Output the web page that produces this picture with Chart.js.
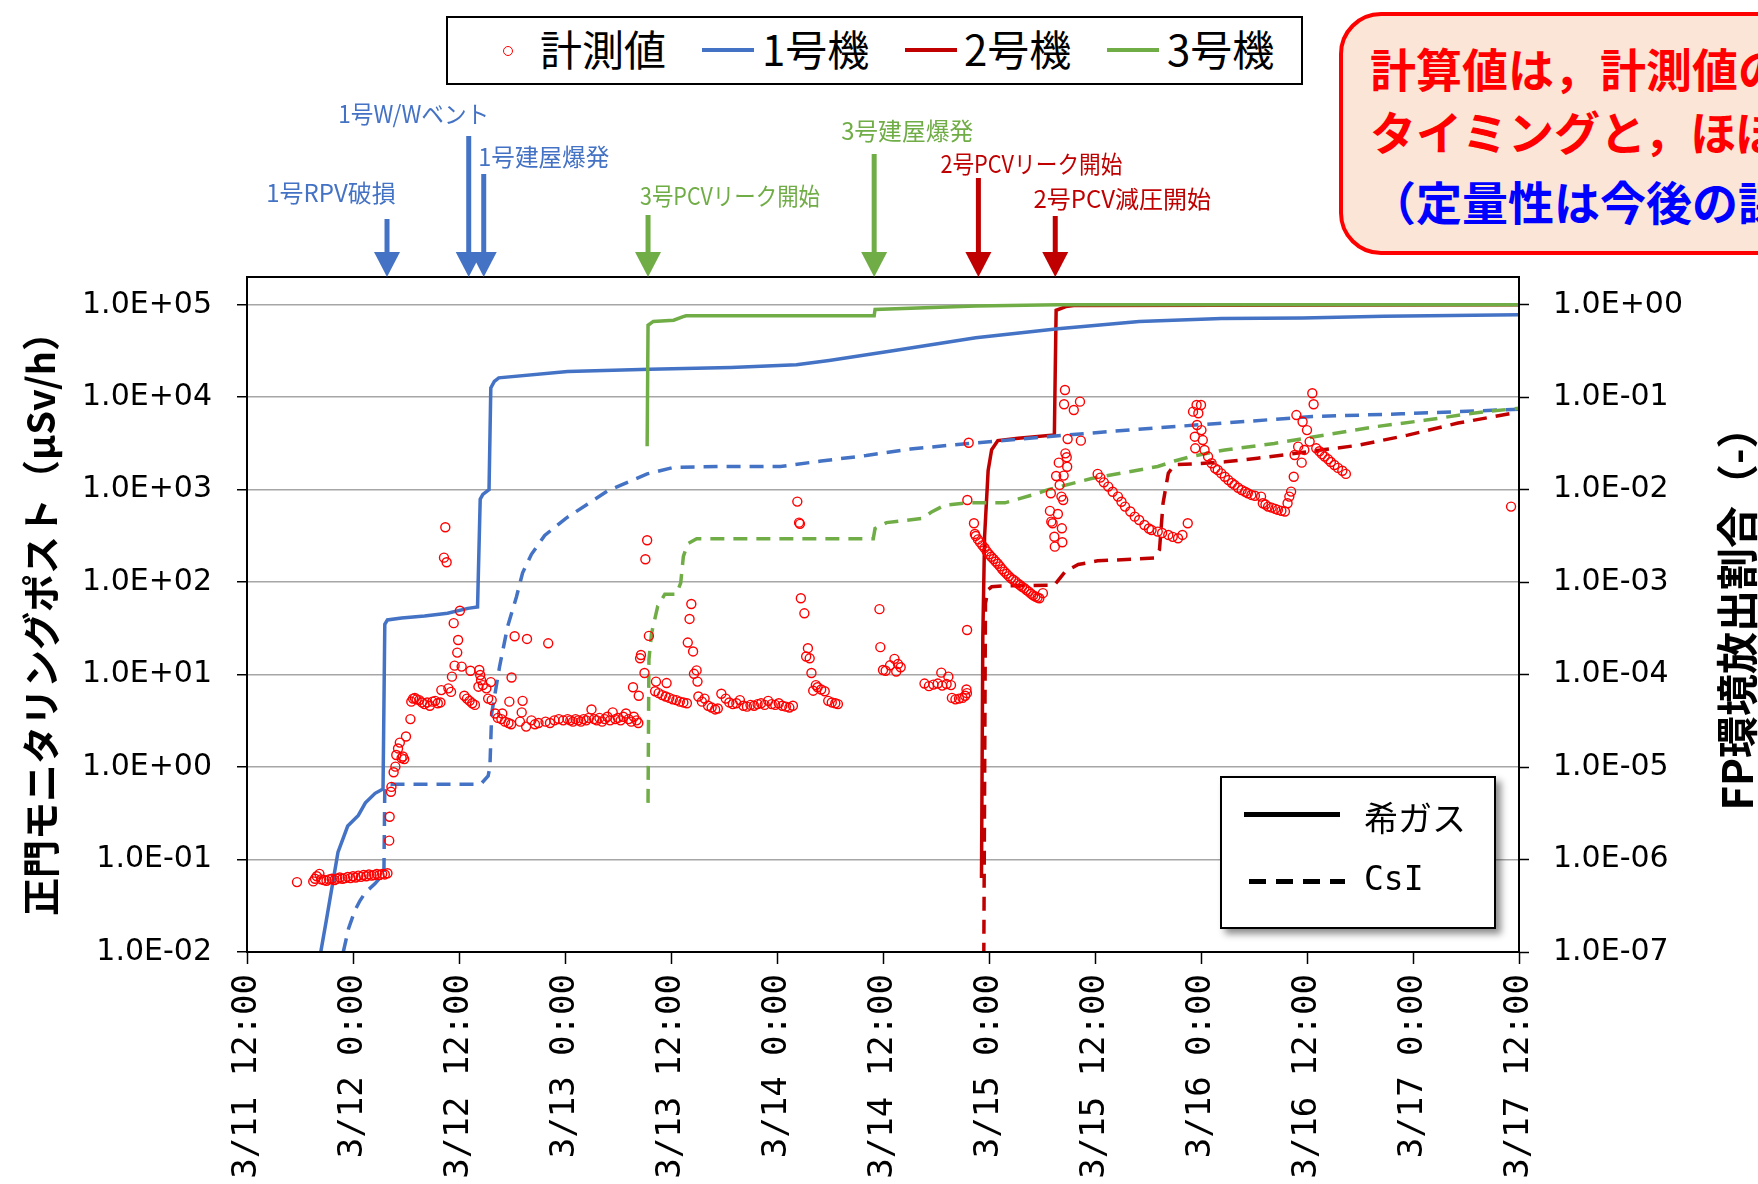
<!DOCTYPE html>
<html lang="ja">
<head>
<meta charset="utf-8">
<title>正門モニタリングポスト 計測値と計算値</title>
<script src="https://cdn.jsdelivr.net/npm/chart.js@4.4.1/dist/chart.umd.min.js"></script>
<style>
  html, body { margin: 0; padding: 0; background: #fff; }
  #page { position: relative; width: 1758px; height: 1184px; overflow: hidden; background: #fff;
          font-family: "Noto Sans CJK JP", sans-serif; }
  #chartBox { position: absolute; left: 0; top: 0; width: 1758px; height: 1320px; }
  .abs { position: absolute; white-space: nowrap; }
  #legendTop { left: 446px; top: 16px; width: 857px; height: 69px; box-sizing: border-box;
               border: 2px solid #000; background: #fff; }
  .lgText { font-size: 42px; line-height: 42px; color: #000; }
  .lgLine { height: 4px; width: 52px; }
  #lgCircle { left: 503px; top: 46px; width: 10px; height: 10px; box-sizing: border-box;
              border: 1.6px solid #FF0000; border-radius: 50%; }
  #legendStyle { left: 1220px; top: 776px; width: 276px; height: 153px; box-sizing: border-box;
                 border: 2px solid #000; background: #fff; box-shadow: 5px 5px 7px rgba(0,0,0,0.45); }
  .stText { font-size: 34px; line-height: 36px; color: #000; }
  #note { left: 1339px; top: 12px; width: 560px; height: 243px; box-sizing: border-box;
          border: 4px solid #FF0000; border-radius: 42px; background: #FBE5D6; }
  .noteText { font-size: 46px; line-height: 46px; font-weight: bold; }
</style>
</head>
<body>
<div id="page">
  <div id="chartBox"><canvas id="chart"></canvas></div>

  <div id="legendTop" class="abs"></div>
  <div id="lgCircle" class="abs"></div>
  <div class="abs lgText" style="left:540px; top:27px;">計測値</div>
  <div class="abs lgLine" style="left:702px; top:48px; background:#4472C4;"></div>
  <div class="abs lgText" style="left:762px; top:27px;">1号機</div>
  <div class="abs lgLine" style="left:905px; top:48px; background:#C00000;"></div>
  <div class="abs lgText" style="left:964px; top:27px;">2号機</div>
  <div class="abs lgLine" style="left:1107px; top:48px; background:#70AD47;"></div>
  <div class="abs lgText" style="left:1167px; top:27px;">3号機</div>

  <div id="legendStyle" class="abs"></div>
  <div class="abs" style="left:1244px; top:812px; width:96px; height:5px; background:#000;"></div>
  <div class="abs stText" style="left:1364px; top:799px;">希ガス</div>
  <div class="abs" style="left:1249px; top:879px; width:96px; height:5px;
       background: repeating-linear-gradient(90deg, #000 0 17px, transparent 17px 27px);"></div>
  <div class="abs stText" style="left:1364px; top:861px; font-family:'DejaVu Sans Mono'; font-size:33px;">CsI</div>

  <div id="note" class="abs"></div>
  <div class="abs noteText" style="left:1370px; top:44px; color:#FF0000;">計算値は，計測値の上昇</div>
  <div class="abs noteText" style="left:1370px; top:107px; color:#FF0000;">タイミングと，ほぼ一致</div>
  <div class="abs noteText" style="left:1370px; top:177px; color:#0000FF;">（定量性は今後の課題）</div>
</div>

<script>
// hours from 3/11 12:00
const timeLabels = ['3/11 12:00', '3/12 0:00', '3/12 12:00', '3/13 0:00', '3/13 12:00', '3/14 0:00',
  '3/14 12:00', '3/15 0:00', '3/15 12:00', '3/16 0:00', '3/16 12:00', '3/17 0:00', '3/17 12:00'];

// measured dose rate at main gate (μSv/h) : [hour, value]
const measured = [
  [5.66, 0.057], [7.5, 0.058], [7.7, 0.062], [7.9, 0.066], [8.2, 0.070], [8.4, 0.061], [8.7, 0.060],
  [9.0, 0.059], [9.3, 0.061], [9.6, 0.062], [9.9, 0.060], [10.2, 0.062], [10.5, 0.064], [10.8, 0.062],
  [11.1, 0.063], [11.4, 0.065], [11.7, 0.063], [12.0, 0.066], [12.3, 0.064], [12.6, 0.067], [12.9, 0.065],
  [13.2, 0.068], [13.5, 0.066], [13.8, 0.069], [14.1, 0.067], [14.4, 0.068], [14.7, 0.070], [15.0, 0.068],
  [15.3, 0.070], [15.6, 0.069], [15.9, 0.071],
  [16.1, 0.16], [16.15, 0.29], [16.3, 0.54], [16.35, 0.61], [16.6, 0.88], [16.8, 1.01], [16.9, 1.35],
  [17.1, 1.59], [17.3, 1.84], [17.5, 1.25], [17.65, 1.3], [17.8, 1.22], [18.0, 2.14], [18.5, 3.3],
  [18.6, 5.1], [18.8, 5.5], [19.0, 5.6], [19.2, 5.4], [19.5, 5.3], [19.8, 5.0], [20.1, 4.8], [20.4, 5.0],
  [20.7, 4.6], [21.0, 5.1], [21.3, 5.2], [21.6, 4.9], [21.9, 5.0], [22.0, 6.8], [22.8, 7.1], [23.1, 6.5],
  [23.2, 9.5], [23.5, 12.5], [23.8, 17.3], [23.9, 23.7], [23.4, 36], [24.1, 49], [22.45, 392], [22.3, 184],
  [22.6, 164], [24.3, 12.2], [25.3, 11.0], [24.6, 5.9], [24.9, 5.5], [25.2, 5.2], [25.5, 4.9], [25.8, 4.7],
  [26.3, 11.2], [26.4, 9.9], [26.5, 8.7], [26.2, 7.4], [26.7, 7.7], [27.1, 7.1], [27.6, 8.3], [27.3, 5.5],
  [27.7, 5.3], [28.1, 3.8], [28.4, 3.4], [28.8, 3.3], [29.2, 3.1], [29.6, 3.0], [29.9, 2.9], [28.9, 3.8],
  [29.95, 9.3], [29.7, 5.1], [31.2, 5.2], [31.1, 3.9], [30.9, 3.1], [31.6, 2.74], [32.2, 3.2], [32.6, 2.9],
  [33.0, 3.0], [30.3, 26], [31.7, 24.3], [34.1, 21.8], [33.8, 3.1], [34.3, 3.0], [34.8, 3.2], [35.3, 3.3],
  [35.8, 3.2], [36.3, 3.3],
  [36.6, 3.2], [36.9, 3.1], [37.2, 3.3], [37.5, 3.2], [37.8, 3.1], [38.1, 3.3], [38.4, 3.2], [38.7, 3.4],
  [39.0, 4.2], [39.3, 3.3], [39.6, 3.2], [39.9, 3.4], [40.2, 3.1], [40.5, 3.3], [40.8, 3.5], [41.1, 3.2],
  [41.4, 3.9], [41.7, 3.3], [42.0, 3.4], [42.3, 3.2], [42.6, 3.5], [42.9, 3.8], [43.2, 3.3], [43.5, 3.1],
  [43.8, 3.5], [44.1, 3.2], [44.3, 3.0],
  [43.7, 7.3], [44.35, 5.9], [44.5, 15.0], [44.6, 16.3], [45.0, 10.4], [45.5, 26.2], [45.1, 177], [45.3, 284],
  [46.3, 8.4], [46.2, 6.6], [47.5, 8.1], [46.6, 6.3], [47.0, 6.0], [47.4, 5.8], [47.8, 5.6], [48.2, 5.4],
  [48.6, 5.3], [49.0, 5.1], [49.4, 5.0], [49.8, 4.9], [50.3, 58], [50.1, 40], [49.9, 22.2], [50.5, 17.8],
  [50.9, 11.1], [50.6, 10.2], [51.0, 8.4], [51.1, 5.8], [51.5, 5.1], [51.8, 5.5], [52.2, 4.6], [52.6, 4.4],
  [53.0, 4.2], [53.3, 4.3], [53.7, 6.2],
  [54.2, 5.5], [54.6, 5.0], [55.0, 4.8], [55.4, 4.9], [55.8, 5.3], [56.2, 4.6], [56.6, 4.5], [57.0, 4.7],
  [57.4, 4.6], [57.8, 4.8], [58.2, 4.9], [58.6, 4.7], [59.0, 5.2], [59.4, 4.8], [59.8, 4.7], [60.2, 4.9],
  [60.6, 4.6], [61.0, 4.5], [61.4, 4.4], [61.8, 4.6],
  [62.3, 743], [62.5, 440], [62.6, 427], [62.7, 67], [63.1, 46], [63.5, 19.3], [63.3, 15.7], [63.7, 15.0],
  [63.9, 10.4], [64.1, 6.7], [64.4, 7.7], [64.6, 7.3], [65.0, 6.9], [65.4, 6.6], [65.8, 5.2], [66.2, 5.0],
  [66.6, 4.9], [66.9, 4.8],
  [71.6, 51], [71.7, 19.8], [72.0, 11.2], [72.3, 11.0], [72.8, 12.6], [73.3, 14.8], [73.7, 13.0],
  [74.0, 12.0], [73.5, 10.8],
  [76.7, 8.0], [77.2, 7.5], [77.7, 7.8], [78.2, 8.0], [78.7, 7.6], [79.2, 7.9], [79.7, 7.7], [78.6, 10.5],
  [79.4, 9.5], [79.8, 5.6], [80.2, 5.4], [80.6, 5.5], [81.0, 5.6], [81.3, 5.9], [81.5, 6.3], [81.45, 6.9],
  [81.52, 30.4], [81.55, 774], [81.7, 3220],
  [82.3, 433], [82.4, 332], [82.5, 316], [82.75, 290], [83.0, 269], [83.25, 250], [83.5, 234], [83.75, 215],
  [84.0, 200], [84.25, 188], [84.5, 178], [84.75, 167], [85.0, 158], [85.25, 148], [85.5, 138], [85.75, 130],
  [86.0, 123], [86.25, 116], [86.5, 110], [86.75, 106], [87.0, 102], [87.25, 97], [87.5, 93], [87.75, 89],
  [88.0, 86], [88.25, 82], [88.5, 79], [88.75, 75], [89.0, 72], [89.25, 70], [89.5, 68], [89.7, 67], [90.1, 76],
  [92.6, 11970], [92.5, 8380], [93.6, 7270], [94.3, 8950], [92.9, 3530], [94.4, 3390], [92.65, 2470],
  [92.8, 2240], [91.9, 1960], [92.85, 1770], [91.6, 1405], [92.45, 1420], [92.0, 1125], [91.0, 914],
  [92.2, 841], [92.4, 774], [90.9, 589], [91.8, 546], [91.05, 451], [91.2, 433], [92.25, 382], [91.4, 310],
  [92.3, 270], [91.45, 242],
  [96.3, 1480], [96.6, 1350], [97.0, 1200], [97.5, 1080], [98.0, 950], [98.6, 841], [99.0, 740], [99.4, 656],
  [100.0, 580], [100.5, 511], [101.0, 470], [101.6, 415], [102.1, 380], [102.4, 366], [103.1, 352],
  [103.6, 340], [104.3, 324], [104.8, 309], [105.4, 298], [105.9, 324], [106.5, 433],
  [107.5, 8240], [108.0, 8240], [107.7, 6700], [107.1, 6980], [107.55, 5000], [107.3, 3740], [108.2, 3440],
  [107.35, 2800], [108.05, 4410], [108.4, 2690], [108.8, 2280], [109.2, 1930], [109.6, 1700], [109.9, 1630],
  [110.3, 1500], [110.7, 1380], [111.1, 1270], [111.5, 1180], [111.8, 1125], [112.2, 1050], [112.6, 993],
  [113.0, 950], [113.3, 914], [113.7, 877], [114.1, 860], [114.8, 841], [115.0, 713], [115.3, 690],
  [115.6, 656], [116.0, 640], [116.4, 620], [116.7, 604], [117.1, 590], [117.5, 580], [117.8, 713],
  [118.0, 841], [118.2, 953], [118.5, 1380], [118.6, 2370], [119.0, 2920], [119.4, 1960], [118.8, 6410],
  [119.5, 5430], [120.0, 4410], [120.3, 3310], [120.6, 11020], [120.75, 8380], [119.7, 2690], [121.05, 2800],
  [121.4, 2600], [121.7, 2420], [122.0, 2280], [122.4, 2130], [122.7, 1990], [123.1, 1850], [123.5, 1720],
  [124.0, 1600], [124.4, 1480],
  [143.1, 656]
];

// calculated FP release fraction (-) : [hour, value]
const unit1Gas = [
  [8.35, 1.0e-7], [8.98, 2.2e-7], [10.3, 1.2e-6], [11.4, 2.3e-6], [12.6, 3.0e-6], [13.4, 4.1e-6],
  [14.5, 5.2e-6], [15.4, 5.8e-6], [15.6, 3.5e-4], [15.9, 3.9e-4], [17.5, 4.1e-4], [20.1, 4.3e-4],
  [22.7, 4.6e-4], [25.0, 5.2e-4], [26.1, 5.4e-4], [26.4, 7.9e-3], [26.7, 8.9e-3], [27.4, 1.0e-2],
  [27.6, 0.126], [28.0, 0.148], [28.5, 0.162], [36.3, 0.19], [45.6, 0.20], [54.8, 0.21], [62.2, 0.224],
  [65.9, 0.25], [73.3, 0.32], [82.5, 0.44], [91.8, 0.55], [101, 0.66], [110.3, 0.71], [119.5, 0.72],
  [128.7, 0.75], [144, 0.78]
];
const unit1CsI = [
  [10.9, 1.0e-7], [11.5, 1.8e-7], [12.2, 2.8e-7], [12.8, 3.6e-7], [13.4, 4.4e-7], [14.5, 5.5e-7],
  [15.5, 7.1e-7], [15.6, 6.2e-6], [16.0, 6.5e-6], [25.8, 6.5e-6], [26.5, 6.6e-6], [27.3, 8.0e-6],
  [27.5, 1.0e-5], [27.7, 3.8e-5], [28.6, 1.23e-4], [29.5, 3.3e-4], [30.5, 6.9e-4], [31.2, 1.26e-3],
  [32.2, 2.0e-3], [33.7, 3.2e-3], [36.1, 4.9e-3], [40.9, 9.8e-3], [45.3, 1.48e-2], [48.3, 1.74e-2],
  [53.5, 1.78e-2], [60.4, 1.78e-2], [65, 2.04e-2], [70.1, 2.34e-2], [75.1, 2.75e-2], [81.7, 3.16e-2],
  [90.3, 3.72e-2], [100.4, 4.47e-2], [110.5, 5.25e-2], [120.6, 6.17e-2], [130.7, 6.61e-2], [144, 7.41e-2]
];
const unit2Gas = [
  [83.15, 6.3e-7], [83.3, 2.6e-4], [83.5, 3.1e-3], [83.9, 1.6e-2], [84.3, 2.7e-2], [85.0, 3.4e-2],
  [87.3, 3.6e-2], [91.4, 3.9e-2], [91.5, 0.195], [91.6, 0.87], [92.7, 0.955], [93.6, 0.98], [144, 1.0]
];
const unit2CsI = [
  [83.4, 5e-8], [83.6, 5.9e-4], [83.9, 8.3e-4], [84.3, 8.9e-4], [85.4, 9.1e-4], [91.4, 9.3e-4],
  [92.6, 1.29e-3], [94.1, 1.55e-3], [96.3, 1.70e-3], [102.7, 1.82e-3], [103.3, 2.24e-3], [103.7, 7.1e-3],
  [104.3, 1.51e-2], [105.0, 1.86e-2], [107.7, 1.91e-2], [110.7, 2.0e-2], [114.4, 2.19e-2], [120.1, 2.57e-2],
  [125.8, 3.02e-2], [131.4, 3.89e-2], [137.1, 5.25e-2], [144, 6.92e-2]
];
const unit3Gas = [
  [45.3, 2.95e-2], [45.4, 0.60], [46.0, 0.66], [48.3, 0.68], [49.3, 0.74], [49.7, 0.76], [71.0, 0.76],
  [71.1, 0.89], [82.5, 0.97], [91.8, 1.0], [144, 1.0]
];
const unit3CsI = [
  [45.4, 4.1e-6], [45.5, 1.45e-4], [45.8, 2.8e-4], [46.5, 5.5e-4], [47.3, 7.4e-4], [48.6, 7.4e-4],
  [49.1, 9.8e-4], [49.4, 1.9e-3], [49.9, 2.6e-3], [50.9, 2.95e-3], [70.9, 2.95e-3], [71.1, 3.8e-3],
  [72.4, 4.4e-3], [76.5, 4.9e-3], [77.5, 5.75e-3], [79.0, 6.8e-3], [81.6, 7.2e-3], [85.8, 7.2e-3],
  [88.8, 8.7e-3], [90.7, 1.0e-2], [95.6, 1.32e-2], [103.1, 1.78e-2], [105.0, 2.04e-2], [106.9, 2.29e-2],
  [110.7, 2.69e-2], [116.3, 3.16e-2], [122.0, 3.89e-2], [127.7, 4.79e-2], [133.3, 5.62e-2],
  [139.0, 6.76e-2], [144, 7.6e-2]
];

// events marked with arrows above the plot
const eventHours = [15.85, 25.1, 26.8, 45.4, 71.0, 82.8, 91.5];
const eventLabels = ['1号RPV破損', '1号W/Wベント', '1号建屋爆発', '3号PCVリーク開始', '3号建屋爆発',
  '2号PCVリーク開始', '2号PCV減圧開始'];
const eventUnits = [1, 1, 1, 3, 3, 2, 2];

const unitColors = { 1: '#4472C4', 2: '#C00000', 3: '#70AD47' };
// arrow / label layout (px)
const arrowTops = [219, 136, 174, 215, 154, 178, 216];
const labelDx = [-56, -55, 60, 82, 33, 53, 67];
const labelY = [193, 114, 157, 196, 131, 164, 199];
const labelMaxW = [131, 151, 131, 180, 132, 182, 179];

const leftTitle = '正門モニタリングポスト（μSv/h）';
const rightTitle = 'FP環境放出割合（-）';

const sciLabel = v => {
  const e = Math.round(Math.log10(v));
  return '1.0E' + (e < 0 ? '-' : '+') + String(Math.abs(e)).padStart(2, '0');
};
const toXY = arr => arr.map(p => ({ x: p[0], y: p[1] }));

const overlay = {
  id: 'overlay',
  afterDraw(chart) {
    const { ctx, chartArea: a, scales } = chart;
    ctx.save();
    ctx.strokeStyle = '#000';
    ctx.lineWidth = 2;
    ctx.strokeRect(a.left, a.top, a.right - a.left, a.bottom - a.top);

    eventHours.forEach((h, i) => {
      const x = scales.x.getPixelForValue(h);
      const c = unitColors[eventUnits[i]];
      ctx.strokeStyle = c;
      ctx.fillStyle = c;
      ctx.lineWidth = 5;
      ctx.beginPath();
      ctx.moveTo(x, arrowTops[i]);
      ctx.lineTo(x, a.top - 20);
      ctx.stroke();
      ctx.beginPath();
      ctx.moveTo(x - 13, a.top - 25);
      ctx.lineTo(x + 13, a.top - 25);
      ctx.lineTo(x, a.top);
      ctx.closePath();
      ctx.fill();
      ctx.font = '24px "Noto Sans CJK JP"';
      ctx.textAlign = 'center';
      ctx.textBaseline = 'middle';
      ctx.fillText(eventLabels[i], x + labelDx[i], labelY[i], labelMaxW[i]);
    });

    ctx.fillStyle = '#000';
    ctx.textAlign = 'center';
    ctx.textBaseline = 'middle';
    ctx.font = 'bold 38px "Noto Sans CJK JP"';
    ctx.save();
    ctx.translate(41, (a.top + a.bottom) / 2);
    ctx.rotate(-Math.PI / 2);
    ctx.fillText(leftTitle, 0, 0);
    ctx.restore();
    ctx.font = 'bold 42px "Noto Sans CJK JP"';
    ctx.save();
    ctx.translate(1737, (a.top + a.bottom) / 2 - 6);
    ctx.rotate(-Math.PI / 2);
    ctx.fillText(rightTitle, 0, 0);
    ctx.restore();
    ctx.restore();
  }
};

const lineSet = (label, data, color, dashed) => ({
  label: label,
  data: toXY(data),
  yAxisID: 'y2',
  borderColor: color,
  borderWidth: 3.5,
  borderDash: dashed ? [14, 9] : [],
  pointRadius: 0,
  fill: false,
  tension: 0
});

const ctx = document.getElementById('chart').getContext('2d');
new Chart(ctx, {
  type: 'line',
  data: {
    // earlier datasets are painted on top
    datasets: [
      {
        type: 'scatter',
        label: '計測値',
        data: toXY(measured),
        yAxisID: 'y',
        borderColor: '#FF0000',
        backgroundColor: 'rgba(0,0,0,0)',
        pointRadius: 4.5,
        pointBorderWidth: 1.4,
        showLine: false
      },
      lineSet('3号機 希ガス', unit3Gas, unitColors[3], false),
      lineSet('3号機 CsI', unit3CsI, unitColors[3], true),
      lineSet('1号機 希ガス', unit1Gas, unitColors[1], false),
      lineSet('1号機 CsI', unit1CsI, unitColors[1], true),
      lineSet('2号機 希ガス', unit2Gas, unitColors[2], false),
      lineSet('2号機 CsI', unit2CsI, unitColors[2], true)
    ]
  },
  options: {
    responsive: true,
    maintainAspectRatio: false,
    animation: false,
    layout: { padding: { top: 277, left: 0, right: 0, bottom: 0 } },
    plugins: { legend: { display: false }, tooltip: { enabled: false } },
    scales: {
      x: {
        type: 'linear',
        min: 0,
        max: 144,
        afterFit: s => { s.height = 368; },
        grid: { drawOnChartArea: false, tickLength: 12, tickColor: '#000', tickWidth: 1.5 },
        border: { color: '#000', width: 2 },
        ticks: {
          stepSize: 12,
          autoSkip: false,
          minRotation: 90,
          maxRotation: 90,
          padding: 10,
          color: '#000',
          font: { family: 'DejaVu Sans Mono', size: 34 },
          callback: (v, i) => timeLabels[i]
        }
      },
      y: {
        type: 'logarithmic',
        position: 'left',
        min: 0.01,
        max: 1.995e5,
        afterFit: s => { s.width = 247; },
        afterBuildTicks: s => { s.ticks = [-2, -1, 0, 1, 2, 3, 4, 5].map(e => ({ value: Math.pow(10, e) })); },
        grid: { color: '#A6A6A6', lineWidth: 1.5, tickLength: 10, tickColor: '#000', tickWidth: 1.5 },
        border: { color: '#000', width: 2 },
        ticks: { padding: 25, color: '#000', font: { family: 'DejaVu Sans', size: 30 }, callback: v => sciLabel(v) }
      },
      y2: {
        type: 'logarithmic',
        position: 'right',
        min: 1e-7,
        max: 1.995,
        afterFit: s => { s.width = 239; },
        afterBuildTicks: s => { s.ticks = [-7, -6, -5, -4, -3, -2, -1, 0].map(e => ({ value: Math.pow(10, e) })); },
        grid: { drawOnChartArea: false, tickLength: 10, tickColor: '#000', tickWidth: 1.5 },
        border: { color: '#000', width: 2 },
        ticks: { padding: 24, color: '#000', font: { family: 'DejaVu Sans', size: 30 }, callback: v => sciLabel(v) }
      }
    }
  },
  plugins: [overlay]
});
</script>
</body>
</html>
